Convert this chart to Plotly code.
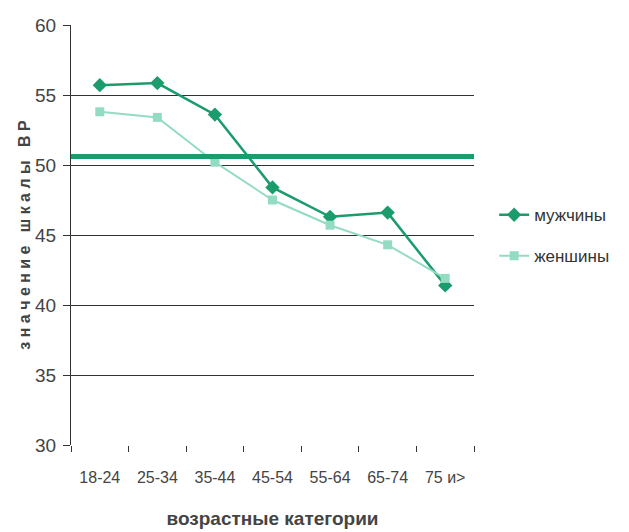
import plotly.graph_objects as go

categories = ["18-24", "25-34", "35-44", "45-54", "55-64", "65-74", "75 и>"]
men = [55.7, 55.85, 53.6, 48.4, 46.3, 46.6, 41.4]
women = [53.8, 53.4, 50.2, 47.5, 45.7, 44.3, 41.9]
reference_value = 50.6
y_ticks = [30, 35, 40, 45, 50, 55, 60]

FONT = "Liberation Sans, Arial, sans-serif"
MEN_COLOR = "#1a9c6c"
WOMEN_COLOR = "#93dcc2"

fig = go.Figure()
fig.add_trace(go.Scatter(
    x=categories, y=men, name="мужчины", mode="lines+markers", legendgroup="m",
    line=dict(color=MEN_COLOR, width=2.5),
    marker=dict(symbol="diamond", size=11, color=MEN_COLOR),
))
fig.add_trace(go.Scatter(
    x=categories, y=women, name="женшины", mode="lines+markers", legendgroup="w",
    line=dict(color=WOMEN_COLOR, width=2),
    marker=dict(symbol="square", size=9, color=WOMEN_COLOR),
))
fig.add_shape(type="line", xref="paper", yref="y", x0=0, x1=1,
              y0=reference_value, y1=reference_value,
              line=dict(color=MEN_COLOR, width=5), layer="above")

fig.update_layout(
    width=621, height=524,
    margin=dict(l=63, r=155, t=17, b=87, autoexpand=False),
    paper_bgcolor="white", plot_bgcolor="white",
    font=dict(family=FONT, color="#333333", size=17),
    showlegend=True,
    legend=dict(x=1.05, y=0.59, xanchor="left", yanchor="top",
                font=dict(size=17, color="#333333"),
                itemwidth=30, tracegroupgap=16, bgcolor="rgba(0,0,0,0)",
                borderwidth=0),
    xaxis=dict(
        type="category", tickson="boundaries", ticks="outside", ticklen=6,
        tickcolor="#333333", showgrid=False, showline=False, zeroline=False,
        automargin=False, ticklabelstandoff=21,
        tickfont=dict(size=16, color="#444444"),
        title=dict(text="<b>возрастные категории</b>", standoff=26,
                   font=dict(size=19, color="#444444")),
        range=[-0.5, 6.5],
    ),
    yaxis=dict(
        range=[30, 60], tickvals=y_ticks, ticks="outside", ticklen=7,
        tickcolor="#333333", showgrid=True, gridcolor="#333333", gridwidth=1,
        showline=True, linecolor="#333333", linewidth=1, zeroline=False,
        automargin=False, ticklabelstandoff=3,
        tickfont=dict(size=19, color="#444444"),
        title=dict(text="<b>з н а ч е н и е   ш к а л ы   В Р</b>", standoff=0,
                   font=dict(size=16, color="#444444")),
    ),
)
fig.write_html("out.html")
